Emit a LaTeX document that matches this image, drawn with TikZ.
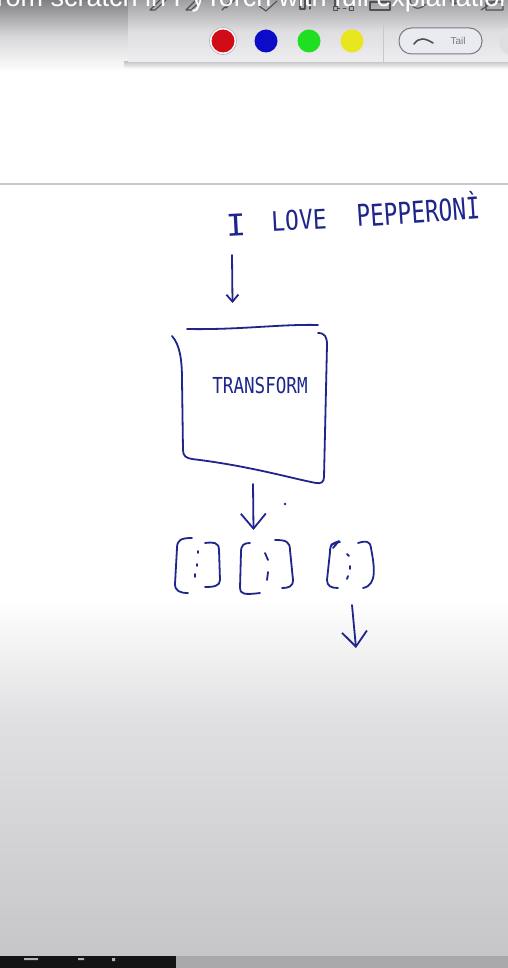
\documentclass[tikz,border=0pt]{standalone}
\usepackage{fontspec}
\setmainfont{Liberation Sans}
\newfontfamily\handfont{DejaVu Sans Mono}
\usetikzlibrary{arrows.meta}
\definecolor{inkc}{RGB}{30,38,140}
\definecolor{bgtop}{RGB}{128,128,130}
\definecolor{bgmid}{RGB}{215,215,217}
\definecolor{paneltop}{RGB}{160,160,162}
\definecolor{panelmid}{RGB}{222,222,224}
\definecolor{panelbot}{RGB}{238,238,240}
\definecolor{rulec}{RGB}{200,200,202}
\definecolor{grayA}{RGB}{224,223,225}
\definecolor{grayB}{RGB}{198,197,200}
\definecolor{stripdark}{RGB}{20,20,20}
\definecolor{striplight}{RGB}{168,168,170}
\definecolor{iconc}{RGB}{80,80,82}
\definecolor{penred}{RGB}{210,12,22}
\definecolor{penblue}{RGB}{12,12,200}
\definecolor{pengreen}{RGB}{32,222,32}
\definecolor{penyellow}{RGB}{232,230,30}
\definecolor{pillfill}{RGB}{234,235,240}
\definecolor{pilledge}{RGB}{120,122,130}
\begin{document}
\begin{tikzpicture}[x=1pt,y=-1pt,
  inkline/.style={draw=inkc,line width=1.8pt,line cap=round,line join=round},
  handtext/.style={text=inkc,inner sep=0pt,font=\handfont\fontsize{30}{30}\selectfont},
  pen/.style={circle,inner sep=0pt,minimum size=23pt},
  iconline/.style={draw=iconc,line width=1.1pt,line cap=round,line join=round}]
\useasboundingbox (0,0) rectangle (508,968);
\clip (0,0) rectangle (508,968);
% backgrounds
\fill[white] (0,0) rectangle (508,968);
\shade[top color=bgtop,bottom color=white,middle color=bgmid] (0,0) rectangle (508,72);
\shade[top color=white,bottom color=grayA] (0,600) rectangle (508,720);
\shade[top color=grayA,bottom color=grayB] (0,720) rectangle (508,957);
\fill[stripdark] (0,956) rectangle (176,968);
\fill[striplight] (176,956) rectangle (508,968);
\fill[gray!60] (24,958) rectangle (38,960) (78,958) rectangle (84,960) (112,958) rectangle (115,961);
% toolbar panel
\shade[top color=rulec,bottom color=white] (124,62) rectangle (508,69);
\shade[top color=paneltop,bottom color=panelbot,middle color=panelmid] (128,0) rectangle (508,62);
\draw[rulec,line width=0.8pt] (128,20) -- (508,20);
\draw[rulec,line width=0.8pt] (383,20) -- (383,62);
% cut-off tool icons
\draw[iconline] (150,10) -- (162,-2) (150,10) -- (155,10) -- (166,0);
\draw[iconline] (186,10) -- (198,-2) (186,10) -- (191,10) -- (202,0);
\draw[iconline] (222,10) -- (234,-2) (226,8) -- (238,-3);
\draw[iconline] (259,6) -- (266,11) -- (277,1);
\draw[iconline] (300,-2) -- (300,9) -- (305,9) -- (305,-2) (310,-2) -- (310,9);
\draw[iconline,line width=0.8pt] (333,6) rectangle (337,10) (349,6) rectangle (353,10);
\draw[iconline,line width=0.8pt,dashed] (337,8) -- (349,8);
\draw[iconline] (335,6) -- (335,-2);
\draw[iconline] (370,2) rectangle (390,10);
\draw[iconline] (410,-2) .. controls (410,8) and (418,12) .. (426,4);
\draw[iconline] (455,-2) -- (455,4) (451,-2) .. controls (449,6) and (461,6) .. (459,-2);
\draw[iconline] (481,10) -- (500,-2) (486,10) rectangle (503,2);
% title (cut off at the top edge, as in the video frame)
\node[anchor=base west,text=white,inner sep=0pt,font=\fontsize{27}{27}\selectfont] (title) at (-11,7) {from scratch in PyTorch with full explanation};
% colour pens
\node[pen,fill=white,draw=pilledge!50,line width=0.8pt,minimum size=27pt] (ring) at (223,41) {};
\node[pen,fill=penred] (red) at (223,41) {};
\node[pen,fill=penblue] (blue) at (266,41) {};
\node[pen,fill=pengreen] (green) at (309,41) {};
\node[pen,fill=penyellow] (yellow) at (352,41) {};
% Tail pill
\draw[pilledge,line width=1pt,fill=pillfill,rounded corners=12.5pt] (399,28) rectangle (482,54);
\draw[iconc,line width=1.6pt,line cap=round] (414,44) .. controls (419,37) and (425,38) .. (433,43);
\node[text=pilledge,font=\fontsize{10}{10}\selectfont,inner sep=0pt] (tail) at (458,41) {Tail};
\fill[panelmid] (514,41) circle (15);
% rule across page
\draw[rulec,line width=1.6pt] (0,184) -- (508,184);
% handwritten sentence
\node[handtext,rotate=3,xscale=1.1] (wI) at (236,225) {I};
\node[handtext,rotate=3,xscale=0.85,font=\handfont\fontsize{27}{27}\selectfont] (wLove) at (299,220) {LOVE};
\node[handtext,rotate=4,xscale=0.76] (wPep) at (418,209) {PEPPERONÌ};
% arrow 1
\coordinate (a1s) at (232,255);
\coordinate (a1e) at (232.5,303);
\draw[inkline,-{Straight Barb[length=7pt,width=12pt]}] (a1s) -- (a1e);
% transform box
\node[minimum width=150pt,minimum height=155pt,inner sep=0pt] (box) at (250,405) {};
\draw[inkline] (187,329) .. controls (240,330) and (280,324) .. (318,325);
\draw[inkline] (172,336) .. controls (180,345) and (182,360) .. (182,380) -- (183,450) .. controls (183,456) and (186,458) .. (192,459) .. controls (250,466) and (290,478) .. (316,483);
\draw[inkline] (318,333) .. controls (325,333) and (327,337) .. (327,345) -- (324,477) .. controls (324,482) and (321,484) .. (316,483);
\node[handtext,xscale=0.8,font=\handfont\fontsize{22}{22}\selectfont] (tr) at (260,385) {TRANSFORM};
% arrow 2
\coordinate (a2s) at (253,484);
\coordinate (a2e) at (253.5,530);
\draw[inkline,-{Straight Barb[length=15pt,width=25pt]}] (a2s) -- (a2e);
\fill[inkc] (285,504) circle (1.3);
% vectors
\coordinate (g1) at (198,566);
\coordinate (g2) at (267,567);
\coordinate (g3) at (352,565);
\draw[inkline] (192,538) .. controls (181,538) and (177,540) .. (177,548) -- (175,584) .. controls (175,591) and (180,593) .. (188,593);
\draw[inkline] (205,543) .. controls (213,542) and (219,542) .. (219,550) -- (220,580) .. controls (220,586) and (214,587) .. (205,587);
\draw[inkline] (198,551) -- (198,553) (197,564) -- (197,566) (195,574) -- (195,577);
\draw[inkline] (250,543) .. controls (244,543) and (241,545) .. (241,552) -- (240,588) .. controls (240,594) and (244,595) .. (260,593);
\draw[inkline] (275,540) .. controls (285,540) and (290,541) .. (290,550) -- (293,580) .. controls (293,587) and (288,588) .. (282,588);
\draw[inkline] (265,553) -- (268,560) (268,572) -- (267,580);
\draw[inkline] (340,542) .. controls (333,542) and (330,544) .. (330,552) -- (327,580) .. controls (327,586) and (331,588) .. (338,588);
\draw[inkline] (331,545) -- (339,541) -- (333,548);
\draw[inkline] (358,543) .. controls (365,541) and (370,540) .. (371,548) .. controls (374,565) and (378,585) .. (363,588);
\draw[inkline] (347,554) -- (349,556) (350,566) -- (350,569) (348,576) -- (347,579);
% arrow 3
\coordinate (a3s) at (352,605);
\coordinate (a3e) at (356,648);
\draw[inkline,-{Straight Barb[length=15pt,width=25pt]}] (a3s) -- (a3e);
\end{tikzpicture}
\end{document}
